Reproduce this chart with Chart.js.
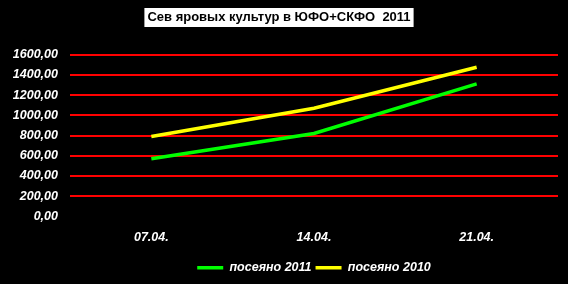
<!DOCTYPE html>
<html lang="ru">
  <head>
    <meta charset="UTF-8" />
    <title>Сев яровых культур</title>
    <style>
      html, body { margin: 0; padding: 0; background: #000; }
      .container { width: 568px; height: 284px; }
    </style>
  </head>
  <body>
    <div class="container">
      <canvas id="myChart"></canvas>
    </div>
    <script src="https://cdn.jsdelivr.net/npm/chart.js@4"></script>
    <script>
      const dates = ['07.04.', '14.04.', '21.04.'];
      const sown2011 = [570, 820, 1310];
      const sown2010 = [790, 1070, 1475];
      const yTicks = [0, 200, 400, 600, 800, 1000, 1200, 1400, 1600];

      const fontBI = { family: 'Liberation Sans, Arial, sans-serif', size: 12.5, weight: 'bold', style: 'italic' };

      // black background + white box behind the title
      const titleBox = {
        id: 'titleBox',
        beforeDraw(chart) {
          const ctx = chart.ctx;
          const tb = chart.titleBlock;
          const opts = chart.options.plugins.title;
          ctx.save();
          ctx.fillStyle = '#000';
          ctx.fillRect(0, 0, chart.width, chart.height);
          ctx.font = 'bold 13px Liberation Sans, Arial, sans-serif';
          const w = ctx.measureText(opts.text).width;
          const cx = (tb.left + tb.right) / 2;
          const top = tb.top + opts.padding.top - 2;
          ctx.fillStyle = '#fff';
          ctx.fillRect(cx - w / 2 - 3, top, w + 6, 19);
          ctx.restore();
        },
      };

      const data = {
        labels: dates,
        datasets: [
          {
            label: 'посеяно 2011',
            data: sown2011,
            borderColor: '#00ff00',
            backgroundColor: '#00ff00',
            borderWidth: 3.5,
            pointRadius: 0,
          },
          {
            label: 'посеяно 2010',
            data: sown2010,
            borderColor: '#ffff00',
            backgroundColor: '#ffff00',
            borderWidth: 3.5,
            pointRadius: 0,
          },
        ],
      };

      const config = {
        type: 'line',
        data: data,
        plugins: [titleBox],
        options: {
          animation: false,
          responsive: true,
          maintainAspectRatio: false,
          layout: { padding: { top: 0, right: 10, left: 0, bottom: 0 } },
          plugins: {
            title: {
              display: true,
              text: 'Сев яровых культур в ЮФО+СКФО  2011',
              color: '#000',
              font: { family: 'Liberation Sans, Arial, sans-serif', size: 13, weight: 'bold' },
              padding: { top: 10, bottom: 29 },
            },
            legend: {
              position: 'bottom',
              fullSize: false,
              labels: {
                color: '#fff',
                font: fontBI,
                usePointStyle: true,
                pointStyle: 'line',
                pointStyleWidth: 26,
                padding: 4,
              },
            },
            tooltip: { enabled: false },
          },
          scales: {
            x: {
              offset: true,
              grid: { display: false },
              border: { display: false },
              ticks: { color: '#fff', font: fontBI, padding: 6 },
              afterFit: (axis) => {
                axis.height += 6;
              },
            },
            y: {
              min: 0,
              max: 1600,
              afterBuildTicks: (axis) => {
                axis.ticks = yTicks.map((v) => ({ value: v }));
              },
              afterFit: (axis) => {
                axis.width = 70;
              },
              grid: {
                drawTicks: false,
                color: (c) => (c.tick && c.tick.value === 0 ? 'rgba(0,0,0,0)' : '#ff0000'),
                lineWidth: 2,
              },
              border: { display: false },
              ticks: {
                color: '#fff',
                font: fontBI,
                padding: 12,
                callback: (v) => v.toFixed(2).replace('.', ','),
              },
            },
          },
        },
      };

      new Chart(document.getElementById('myChart'), config);
    </script>
  </body>
</html>
